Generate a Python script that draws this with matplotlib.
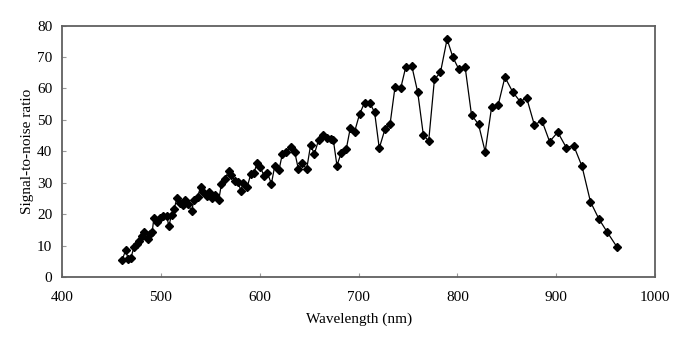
import matplotlib
matplotlib.use('Agg')
import matplotlib.pyplot as plt

# wavelength (nm) and signal-to-noise ratio
wavelength = [460.9, 464.3, 467.0, 469.7, 473.0, 475.4, 478.1, 480.5, 483.1, 486.6,
              488.9, 491.2, 492.9, 495.6, 499.0, 502.4, 505.8, 508.1, 510.8, 513.4,
              516.2, 519.5, 522.2, 524.2, 527.6, 531.0, 533.6, 537.1, 540.4, 542.8,
              546.2, 548.8, 551.9, 555.2, 558.6, 561.3, 564.6, 568.7, 571.4, 574.7,
              578.1, 580.8, 583.5, 587.5, 590.9, 594.2, 597.3, 600.7, 604.3, 607.8,
              611.8, 615.2, 619.5, 622.9, 627.0, 631.3, 635.4, 639.1, 642.7, 647.5,
              651.5, 655.2, 659.6, 664.0, 668.0, 671.7, 674.4, 678.1, 682.5, 687.5,
              691.6, 696.0, 701.0, 706.1, 711.5, 716.2, 720.9, 726.7, 731.8, 736.8,
              742.6, 747.6, 753.7, 759.8, 765.5, 770.9, 776.7, 782.8, 789.5, 795.3,
              801.4, 807.8, 814.2, 821.3, 828.0, 834.5, 841.2, 848.0, 855.7, 863.5,
              869.9, 877.7, 885.5, 893.2, 901.4, 910.1, 917.6, 926.0, 934.5, 942.9,
              951.7, 961.5]
snr = [5.5, 8.5, 5.8, 6.2, 9.7, 10.6, 11.6, 13.1, 14.5, 12.1,
       13.8, 14.2, 18.8, 17.5, 18.8, 19.3, 19.5, 16.3, 19.8, 21.6,
       25.1, 23.5, 23.0, 24.4, 23.3, 20.9, 24.6, 25.6, 28.8, 27.2,
       25.8, 27.2, 25.1, 26.2, 24.6, 29.7, 31.1, 33.9, 32.5, 30.7,
       30.4, 27.5, 30.1, 28.8, 32.8, 33.1, 36.4, 35.0, 32.2, 33.1,
       29.7, 35.4, 34.1, 39.2, 39.9, 41.3, 39.8, 34.3, 36.2, 34.4,
       42.1, 39.1, 43.7, 45.3, 44.2, 43.9, 43.7, 35.5, 39.6, 40.7,
       47.4, 46.3, 51.9, 55.5, 55.3, 52.4, 41.0, 47.1, 48.6, 60.4,
       60.1, 66.7, 67.3, 58.8, 45.2, 43.3, 62.9, 65.1, 75.7, 70.0,
       66.1, 66.7, 51.6, 48.6, 39.9, 54.0, 54.8, 63.6, 59.0, 55.8,
       57.1, 48.5, 49.7, 43.1, 46.1, 41.2, 41.8, 35.2, 24.0, 18.6,
       14.2, 9.5]

xticks = [400, 500, 600, 700, 800, 900, 1000]
yticks = [0, 10, 20, 30, 40, 50, 60, 70, 80]

plt.rcParams['font.family'] = ['Liberation Serif', 'DejaVu Serif']

fig = plt.figure(figsize=(6.85, 3.46), dpi=100)
ax = fig.add_axes([0.0905, 0.199, 0.866, 0.727])

ax.plot(wavelength, snr, color='black', lw=0.9, marker='D', markersize=4.4,
        markerfacecolor='black', markeredgecolor='black')

ax.set_xlim(400, 1000)
ax.set_ylim(0, 80)
ax.set_xticks(xticks)
ax.set_yticks(yticks)
ax.tick_params(direction='in', length=3, width=0.8, color='#999999',
               labelsize=11, pad=7)
ax.tick_params(axis='x', pad=10)
for s in ax.spines.values():
    s.set_color('#606060')
    s.set_linewidth(1.3)

ax.set_xlabel('Wavelength (nm)', fontsize=11, labelpad=6)
ax.set_ylabel('Signal-to-noise ratio', fontsize=11, labelpad=2)

fig.savefig('out.png', dpi=100)
